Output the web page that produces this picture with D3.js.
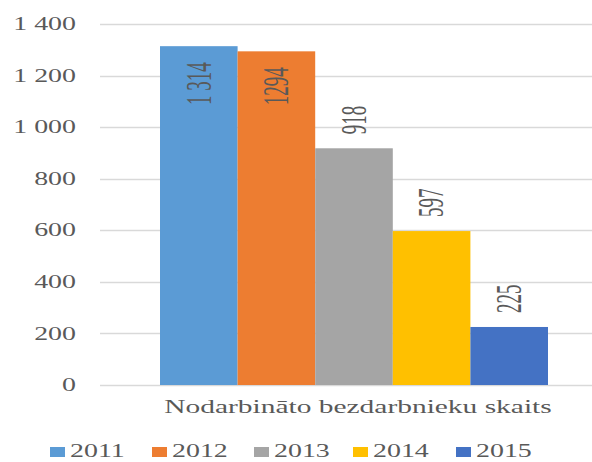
<!DOCTYPE html>
<html>
<head>
<meta charset="utf-8">
<script src="https://cdn.jsdelivr.net/npm/d3@7"></script>
<style>
  body { margin: 0; background: #fff; }
  text { font-family: "Liberation Serif", "Times New Roman", serif; fill: #595959; }
</style>
</head>
<body>
<svg width="592" height="462"></svg>
<script>
// Chart data
const years = ["2011", "2012", "2013", "2014", "2015"];
const values = [1314, 1294, 918, 597, 225];
const valueLabels = ["1 314", "1294", "918", "597", "225"];
const yTicks = [0, 200, 400, 600, 800, 1000, 1200, 1400];
const categoryName = "Nodarbināto bezdarbnieku skaits";
const colors = ["#5B9BD5", "#ED7D31", "#A5A5A5", "#FFC000", "#4472C4"];

const svg = d3.select("svg"),
    width = parseInt(svg.attr("width")),
    height = parseInt(svg.attr("height"));

const stretch = 1.55;  // the picture is wider than it is tall, text looks stretched
const locale = d3.formatLocale({ decimal: ",", thousands: " ", grouping: [3], currency: ["", ""] });
const fmt = locale.format(",d");

// Scales
const y = d3.scaleLinear().domain([0, 1400]).range([385, 24]);
const x = d3.scaleBand().domain(years).range([160, 548]).paddingInner(0);

// Gridlines
svg.append("g")
   .selectAll("line")
   .data(yTicks)
   .join("line")
   .attr("x1", 100)
   .attr("x2", width)
   .attr("y1", d => Math.round(y(d)) + 0.5)
   .attr("y2", d => Math.round(y(d)) + 0.5)
   .attr("stroke", "#D9D9D9")
   .attr("stroke-width", 1.5);

// Y tick labels
svg.append("g")
   .selectAll("text")
   .data(yTicks)
   .join("text")
   .attr("transform", d => `translate(76,${y(d)}) scale(${stretch},1)`)
   .attr("text-anchor", "end")
   .attr("dominant-baseline", "central")
   .style("font-size", "18px")
   .text(d => fmt(d));

// Bars
svg.append("g")
   .selectAll("rect")
   .data(values)
   .join("rect")
   .attr("x", (d, i) => x(years[i]))
   .attr("y", d => y(d))
   .attr("width", x.bandwidth())
   .attr("height", d => y(0) - y(d))
   .attr("fill", (d, i) => colors[i]);

// Value labels, rotated; the two tall bars carry them inside
svg.append("g")
   .selectAll("text")
   .data(values)
   .join("text")
   .attr("transform", (d, i) => {
        const cx = x(years[i]) + x.bandwidth() / 2;
        const ty = d > 1000 ? y(d) + 16 : y(d) - 14;
        return `translate(${cx},${ty}) rotate(-90) scale(1,1.85)`;
    })
   .attr("text-anchor", d => d > 1000 ? "end" : "start")
   .attr("dominant-baseline", "central")
   .style("font-size", "19px")
   .text((d, i) => valueLabels[i]);

// Category label
svg.append("text")
   .attr("transform", `translate(358,413) scale(${stretch},1)`)
   .attr("text-anchor", "middle")
   .style("font-size", "19px")
   .text(categoryName);

// Legend
const legendX = [50, 152, 254, 353, 456];
const legend = svg.append("g")
   .selectAll("g")
   .data(years)
   .join("g")
   .attr("transform", (d, i) => `translate(${legendX[i]},0)`);

legend.append("rect")
   .attr("x", 0)
   .attr("y", 447)
   .attr("width", 15)
   .attr("height", 10)
   .attr("fill", (d, i) => colors[i]);

legend.append("text")
   .attr("transform", `translate(20,457) scale(${stretch},1)`)
   .style("font-size", "18px")
   .text(d => d);
</script>
</body>
</html>
